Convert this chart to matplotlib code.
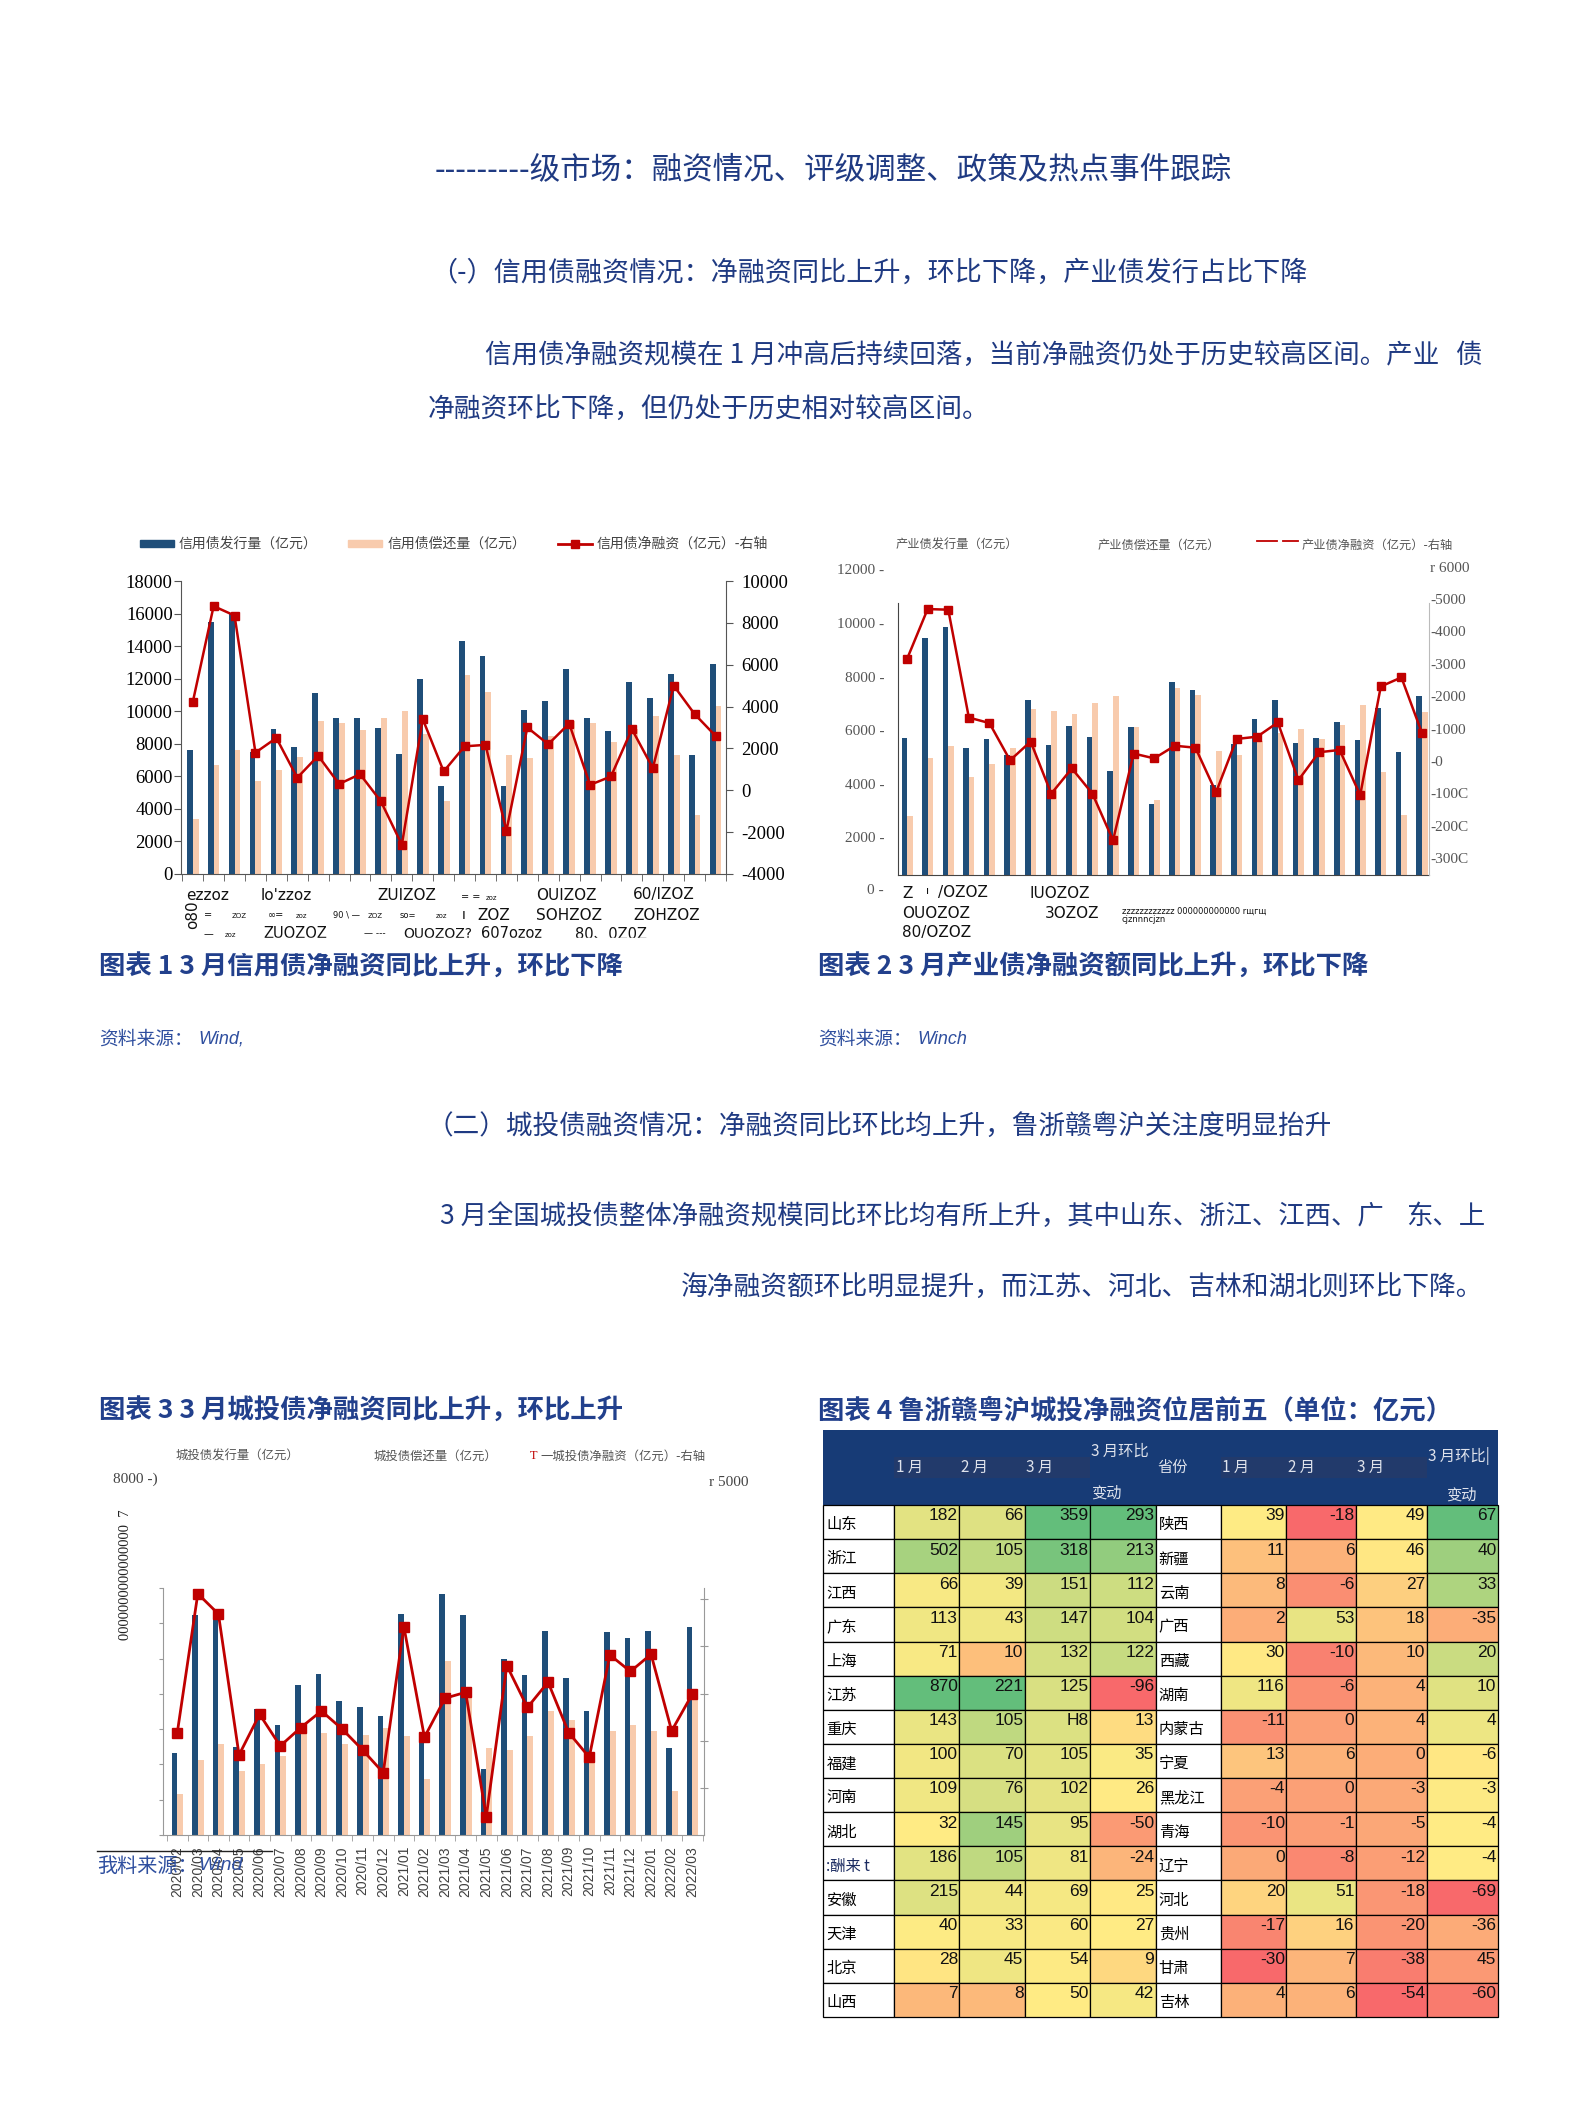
import numpy as np
import matplotlib
matplotlib.use("Agg")
import matplotlib.pyplot as plt
from matplotlib.patches import Rectangle
from matplotlib import font_manager

plt.rcParams['font.family'] = ['Noto Sans CJK SC', 'DejaVu Sans']
plt.rcParams['axes.unicode_minus'] = False

installed = {f.name for f in font_manager.fontManager.ttflist}
NARROW = 'Liberation Sans Narrow' if 'Liberation Sans Narrow' in installed else 'Liberation Sans'
SERIF = 'Liberation Serif'
SANS = 'DejaVu Sans'

W, H = 1571, 2112

months = ['2020/02', '2020/03', '2020/04', '2020/05', '2020/06', '2020/07', '2020/08',
          '2020/09', '2020/10', '2020/11', '2020/12', '2021/01', '2021/02', '2021/03',
          '2021/04', '2021/05', '2021/06', '2021/07', '2021/08', '2021/09', '2021/10',
          '2021/11', '2021/12', '2022/01', '2022/02', '2022/03']

# chart 1: credit bonds (100m yuan)
credit_issue = [7600, 15500, 16000, 7500, 8900, 7800, 11100, 9600, 9600, 9000, 7400, 12000, 5400,
                14300, 13400, 5400, 10100, 10650, 12600, 9600, 8800, 11800, 10800, 12300, 7300, 12900]
credit_repay = [3400, 6700, 7600, 5700, 6400, 7200, 9400, 9300, 8850, 9600, 10000, 8600, 4500,
                12200, 11200, 7300, 7100, 8500, 9400, 9300, 8100, 8900, 9700, 7300, 3600, 10300]
credit_net = [4200, 8800, 8350, 1800, 2500, 600, 1650, 300, 770, -530, -2600, 3400, 900,
              2100, 2170, -1930, 3000, 2200, 3190, 260, 660, 2920, 1060, 5000, 3640, 2600]

# chart 2: industrial bonds
ind_issue = [5700, 9450, 9860, 5350, 5670, 5070, 7130, 5450, 6170, 5760, 4480, 6120, 3230,
             7800, 7480, 3960, 5500, 6430, 7130, 5530, 5700, 6290, 5620, 6840, 5170, 7290]
ind_repay = [2800, 4950, 5410, 4270, 4740, 5320, 6790, 6720, 6620, 7030, 7260, 6120, 3380,
             7560, 7310, 5220, 5070, 5600, 5900, 6040, 5670, 6190, 6940, 4430, 2840, 6670]
ind_net = [3150, 4690, 4670, 1340, 1170, 20, 600, -1010, -230, -1010, -2450, 230, 80,
           470, 410, -970, 680, 750, 1190, -590, 270, 340, -1050, 2300, 2580, 860]
ind_left_ticks = [12000, 10000, 8000, 6000, 4000, 2000]
ind_right_ticks = [6000, 5000, 4000, 3000, 2000, 1000, 0, -1000, -2000, -3000]
ind_right_labels = ['r 6000', '-5000', '-4000', '-3000', '-2000', '-1000', '-0', '-100C', '-200C', '-300C']

# chart 3: chengtou bonds
ct_issue = [2310, 6245, 6320, 2500, 3570, 3130, 4245, 4550, 3810, 3630, 3370, 6270, 2740,
            6840, 6230, 1860, 5000, 4530, 5780, 4450, 3510, 5750, 5580, 5780, 2470, 5900]
ct_repay = [1150, 2120, 2590, 1820, 2000, 2245, 2950, 2900, 2570, 2830, 3040, 2800, 1580,
            4920, 4200, 2470, 2400, 2800, 3520, 3270, 2100, 2950, 3110, 2940, 1250, 3820]
ct_net = [1165, 4115, 3685, 705, 1565, 895, 1285, 1635, 1255, 810, 330, 3420, 1080,
          1905, 2030, -600, 2595, 1710, 2245, 1180, 655, 2820, 2470, 2835, 1215, 1990]

# chart 4: province table
prov_left = ['山东', '浙江', '江西', '广东', '上海', '江苏', '重庆', '福建', '河南', '湖北',
             ':酬来 t', '安徽', '天津', '北京', '山西']
jan_left = [182, 502, 66, 113, 71, 870, 143, 100, 109, 32, 186, 215, 40, 28, 7]
feb_left = [66, 105, 39, 43, 10, 221, 105, 70, 76, 145, 105, 44, 33, 45, 8]
mar_left = [359, 318, 151, 147, 132, 125, 118, 105, 102, 95, 81, 69, 60, 54, 50]
chg_left = [293, 213, 112, 104, 122, -96, 13, 35, 26, -50, -24, 25, 27, 9, 42]
prov_right = ['陕西', '新疆', '云南', '广西', '西藏', '湖南', '内蒙古', '宁夏', '黑龙江', '青海',
              '辽宁', '河北', '贵州', '甘肃', '吉林']
jan_right = [39, 11, 8, 2, 30, 116, -11, 13, -4, -10, 0, 20, -17, -30, 4]
feb_right = [-18, 6, -6, 53, -10, -6, 0, 6, 0, -1, -8, 51, 16, 7, 6]
mar_right = [49, 46, 27, 18, 10, 4, 4, 0, -3, -5, -12, -18, -20, -38, -54]
chg_right = [67, 40, 33, -35, 20, 10, 4, -6, -3, -4, -4, -69, -36, -45, -60]
# cells whose printed text differs from the value (as in the source image)
shown = {(0, 6, 2): 'H8', (1, 13, 3): '45'}

BLUE = '#1f4e79'
PEACH = '#f8cbad'
RED = '#c00000'
NAVY = '#1f3a82'
CAP = '#22408c'
SRC = '#2f4f9f'


def box(l, t, r, b):
    return [l / W, 1 - b / H, (r - l) / W, (b - t) / H]


fig = plt.figure(figsize=(W / 100, H / 100), dpi=100)
x = np.arange(len(months))

# ---------------- chart 1
ax1 = fig.add_axes(box(181, 581, 726, 874))
ax1.bar(x - 0.14, credit_issue, 0.28, color=BLUE)
ax1.bar(x + 0.14, credit_repay, 0.28, color=PEACH)
ax1.set_xlim(-0.56, 25.47)
ax1.set_ylim(0, 18000)
ax1.set_yticks(np.arange(0, 18001, 2000))
ax1.set_xticks([])
ax1.set_xticks(np.arange(-0.5, 25.6, 1), minor=True)
ax1.tick_params(axis='x', which='minor', length=5, color='#555')
ax1.tick_params(axis='y', length=5, color='#555', pad=1, labelsize=13.5, labelfontfamily=SERIF)
for s in ['top', 'right']:
    ax1.spines[s].set_visible(False)
for s in ['left', 'bottom']:
    ax1.spines[s].set_color('#555')
ax1r = ax1.twinx()
ax1r.plot(x, credit_net, color=RED, lw=1.8, marker='s', ms=5.5)
ax1r.set_ylim(-4000, 10000)
ax1r.set_yticks(np.arange(-4000, 10001, 2000))
ax1r.tick_params(axis='y', length=5, color='#555', pad=6, labelsize=13.5, labelfontfamily=SERIF)
for s in ['top', 'left', 'bottom']:
    ax1r.spines[s].set_visible(False)
ax1r.spines['right'].set_color('#555')

# ---------------- chart 2
ax2 = fig.add_axes(box(898, 565, 1429, 875))
ax2.bar(x - 0.135, ind_issue, 0.27, color=BLUE)
ax2.bar(x + 0.135, ind_repay, 0.27, color=PEACH)
ax2.set_xlim(-0.44, 25.34)
ax2.set_ylim(597, 12160)
ax2.set_xticks([])
ax2.set_yticks(ind_left_ticks)
ax2.set_yticklabels([f'{v} -' for v in ind_left_ticks])
ax2.tick_params(axis='y', length=0, pad=10, labelsize=11, labelcolor='#555', labelfontfamily=SERIF)
ax2.spines['left'].set_bounds(597, 10750)
for s in ['top', 'right']:
    ax2.spines[s].set_visible(False)
for s in ['left', 'bottom']:
    ax2.spines[s].set_color('#444')
ax2r = ax2.twinx()
ax2r.plot(x, ind_net, color=RED, lw=1.8, marker='s', ms=6)
ax2r.set_ylim(-3520, 6050)
ax2r.set_yticks(ind_right_ticks)
ax2r.set_yticklabels(ind_right_labels)
ax2r.tick_params(axis='y', length=0, pad=1, labelsize=11, labelcolor='#555', labelfontfamily=SERIF)
for s in ['top', 'left', 'bottom']:
    ax2r.spines[s].set_visible(False)
ax2r.spines['right'].set_color('#bbbbbb')
ax2r.spines['right'].set_bounds(-3520, 4880)

# ---------------- chart 3
ax3 = fig.add_axes(box(163, 1588, 704, 1835))
ax3.bar(x - 0.14, ct_issue, 0.27, color=BLUE)
ax3.bar(x + 0.14, ct_repay, 0.29, color=PEACH)
ax3.set_xlim(-0.69, 25.57)
ax3.set_ylim(0, 7000)
ax3.set_yticks(np.arange(0, 7001, 1000))
ax3.set_yticklabels([])
ax3.set_xticks(x)
ax3.set_xticklabels(months, rotation=90, fontsize=10, color='#404040', family='Liberation Sans')
ax3.set_xticks(np.arange(-0.5, 25.6, 1), minor=True)
ax3.tick_params(axis='x', which='major', length=0, pad=8)
ax3.tick_params(axis='x', which='minor', length=4, color='#999')
ax3.tick_params(axis='y', length=3, color='#999')
ax3.spines['top'].set_visible(False)
ax3.spines['right'].set_visible(False)
for s in ['left', 'bottom']:
    ax3.spines[s].set_color('#999')
ax3r = ax3.twinx()
ax3r.plot(x, ct_net, color=RED, lw=2, marker='s', ms=6.5)
ax3r.set_ylim(-987, 4235)
ax3r.set_yticks(np.arange(0, 4001, 1000))
ax3r.set_yticklabels([])
ax3r.tick_params(axis='y', length=6, direction='inout', color='#999')
for s in ['top', 'left', 'bottom']:
    ax3r.spines[s].set_visible(False)
ax3r.spines['right'].set_color('#999')

# ---------------- page layer (pixel coordinates)
pg = fig.add_axes([0, 0, 1, 1], zorder=10)
pg.set_xlim(0, W)
pg.set_ylim(H, 0)
pg.axis('off')


def t(xp, yp, s, size, color='black', **kw):
    kw.setdefault('va', 'center')
    return pg.text(xp, yp, s, fontsize=size, color=color, **kw)


t(435, 171, '---------级市场：融资情况、评级调整、政策及热点事件跟踪', 22, NAVY)
t(430, 273, '（-）信用债融资情况：净融资同比上升，环比下降，产业债发行占比下降', 19.5, NAVY)
t(485, 355, '信用债净融资规模在 1 月冲高后持续回落，当前净融资仍处于历史较高区间。产业', 19.1, NAVY)
t(1482, 355, '债', 19.1, NAVY, ha='right')
t(428, 410, '净融资环比下降，但仍处于历史相对较高区间。', 19.3, NAVY)

t(427, 1126, '（二）城投债融资情况：净融资同比环比均上升，鲁浙赣粤沪关注度明显抬升', 19.2, NAVY)
t(440, 1216, '3 月全国城投债整体净融资规模同比环比均有所上升，其中山东、浙江、江西、广', 19, NAVY)
t(1485, 1216, '东、上', 19, NAVY, ha='right')
t(1483, 1288, '海净融资额环比明显提升，而江苏、河北、吉林和湖北则环比下降。', 19.3, NAVY, ha='right')

# captions and sources
t(99, 967, '图表 1 3 月信用债净融资同比上升，环比下降', 19, CAP, weight='bold')
t(818, 967, '图表 2 3 月产业债净融资额同比上升，环比下降', 19, CAP, weight='bold')
t(99, 1411, '图表 3 3 月城投债净融资同比上升，环比上升', 19, CAP, weight='bold')
t(818, 1411, '图表 4 鲁浙赣粤沪城投净融资位居前五（单位：亿元）', 19, CAP, weight='bold')
t(99, 1039, '资料来源：', 13.5, SRC)
t(198, 1039, 'Wind,', 13, SRC, family=NARROW, style='italic')
t(818, 1039, '资料来源：', 13.5, SRC)
t(917, 1039, 'Winch', 13, SRC, family=NARROW, style='italic')

# chart 1 legend
pg.add_patch(Rectangle((140, 540), 34, 7, color=BLUE))
pg.add_patch(Rectangle((348, 540), 34, 7, color=PEACH))
pg.plot([558, 592], [543.5, 543.5], color=RED, lw=2)
pg.plot([575], [543.5], marker='s', ms=6, color=RED)
t(179, 543.5, '信用债发行量（亿元）', 10, '#444')
t(388, 543.5, '信用债偿还量（亿元）', 10, '#444')
t(597, 543.5, '信用债净融资（亿元）-右轴', 10, '#444')

# chart 1 scrambled axis labels
c1_labels = [
    (186, 895, 'ezzoz', 11), (261, 895, "lo'zzoz", 11), (377, 895, 'ZUIZOZ', 11),
    (461, 897, '= =', 7), (486, 898, 'zoz', 5), (536, 895, 'OUIZOZ', 11), (633, 895, '60/IZOZ', 11),
    (204, 915, '=', 7), (232, 916, 'ZOZ', 5), (268, 915, '∞=', 7), (296, 916, 'zoz', 5),
    (333, 915, '90 \\ —', 6), (368, 916, 'ZOZ', 5), (400, 915, 'so=', 6), (436, 916, 'zoz', 5),
    (462, 915, 'ı', 10), (477, 915, 'ZOZ', 11), (536, 915, 'SOHZOZ', 11), (633, 915, 'ZOHZOZ', 11),
    (204, 934, '—', 7), (225, 935, 'zoz', 5), (263, 934, 'ZUOZOZ', 10.5), (364, 934, '— ---', 6.5),
    (403, 934, 'OUOZOZ?', 10), (481, 934, '607ozoz', 10.5), (575, 934, '80、0Z0Z', 10.5),
]
for xp, yp, s, size in c1_labels:
    t(xp, yp, s, size, '#111', family=[SANS, 'Noto Sans CJK SC'])
t(193, 915, 'o80', 11, '#111', family=SANS, rotation=90, ha='center')
pg.add_patch(Rectangle((150, 937.5), 620, 14, color='white', zorder=4))

# chart 2 legend and scrambled labels
t(896, 545, '产业债发行量（亿元）', 8.8, '#555')
t(1098, 545, '产业债偿还量（亿元）', 8.8, '#555')
pg.plot([1257, 1277], [541, 541], color=RED, lw=1.3)
pg.plot([1283, 1298], [541, 541], color=RED, lw=1.3)
t(1302, 545, '产业债净融资（亿元）-右轴', 8.8, '#555')
t(884, 891, '0 -', 11, '#555', family=SERIF, ha='right')
c2_labels = [
    (902, 893, 'Z', 11), (926, 891, 'ı', 8), (938, 893, '/OZOZ', 11), (1030, 893, 'IUOZOZ', 11),
    (902, 913, 'OUOZOZ', 11), (1045, 913, '3OZOZ', 11), (902, 933, '80/OZOZ', 11),
    (1122, 911, 'zzzzzzzzzzzz 000000000000 rщгщ', 6), (1122, 919, 'cjznnncjzn', 6),
]
for xp, yp, s, size in c2_labels:
    t(xp, yp, s, size, '#111', family=SANS)

# chart 3 legend and stray labels
t(176, 1456, '城投债发行量（亿元）', 8.9, '#555')
t(374, 1456, '城投债偿还量（亿元）', 8.9, '#555')
t(530, 1456, 'T', 8.9, RED, family=SERIF)
t(540, 1456, '一城投债净融资（亿元）-右轴', 8.9, '#555')
t(113, 1479, '8000 -)', 11, '#444', family=SERIF)
t(709, 1483, 'r 5000', 11, '#444', family=SERIF)
t(126, 1575, '0000000000000000  7', 10.5, '#222', family=SERIF, rotation=90, ha='center')
pg.plot([97, 272], [1851, 1851], color='#222', lw=1)
t(97, 1866, '我料来源：', 14.5, SRC)
t(198, 1866, 'Wind', 14, SRC, family=NARROW, style='italic')

# ---------------- chart 4 table
REDC = np.array([248, 105, 107]) / 255
YELC = np.array([255, 235, 132]) / 255
GRNC = np.array([99, 190, 123]) / 255


def excel_scale(vals):
    v = np.asarray(vals, float)
    lo, mid, hi = v.min(), np.percentile(v, 50), v.max()
    out = []
    for val in v:
        if val <= mid:
            f = (val - lo) / (mid - lo) if mid > lo else 1.0
            c = REDC + (YELC - REDC) * f
        else:
            f = (val - mid) / (hi - mid)
            c = YELC + (GRNC - YELC) * f
        out.append(tuple(np.clip(c, 0, 1)))
    return out


left_cols = [jan_left, feb_left, mar_left, chg_left]
right_cols = [jan_right, feb_right, mar_right, chg_right]
left_colors, right_colors = [], []
for k in range(3):
    both = excel_scale(left_cols[k] + right_cols[k])
    left_colors.append(both[:15])
    right_colors.append(both[15:])
left_colors.append(excel_scale(chg_left))
right_colors.append(excel_scale(chg_right))

cx = [823.5, 894, 959.5, 1025, 1090, 1155.7, 1221, 1286.5, 1356, 1426.8, 1498]
head_top, head_bot, tab_bot = 1430, 1505, 2017
row_h = (tab_bot - head_bot) / 15

pg.add_patch(Rectangle((cx[0], head_top), cx[-1] - cx[0], head_bot - head_top, color='#173b76', lw=0))
pg.add_patch(Rectangle((cx[1], 1457), cx[4] - cx[1], 21, color='#223a6b', lw=0))
pg.add_patch(Rectangle((cx[6], 1457), cx[9] - cx[6], 21, color='#223a6b', lw=0))
HDR = '#dfe3ec'
for s, xp, yp in [('1 月', 896, 1467.7), ('2 月', 961, 1467.7), ('3 月', 1026, 1467.7),
                  ('3 月环比', 1091, 1451.7), ('变动', 1091, 1493), ('省份', 1157, 1467.7),
                  ('1 月', 1222, 1467.7), ('2 月', 1288, 1467.7), ('3 月', 1357, 1467.7),
                  ('3 月环比|', 1428, 1455.7), ('变动', 1446, 1495)]:
    t(xp, yp, s, 11, HDR)

for half, (provs, cols, colors, c0) in enumerate([(prov_left, left_cols, left_colors, 0),
                                                   (prov_right, right_cols, right_colors, 5)]):
    for r in range(15):
        y0 = head_bot + r * row_h
        pg.add_patch(Rectangle((cx[c0], y0), cx[c0 + 1] - cx[c0], row_h,
                               facecolor='white', edgecolor='black', lw=0.9))
        pcol = '#1a2a60' if provs[r].startswith(':') else 'black'
        t(cx[c0] + 3, y0 + row_h * 0.58, provs[r], 11, pcol)
        for k in range(4):
            xa, xb = cx[c0 + 1 + k], cx[c0 + 2 + k]
            pg.add_patch(Rectangle((xa, y0), xb - xa, row_h, facecolor=colors[k][r],
                                   edgecolor='black', lw=0.9))
            label = shown.get((half, r, k), str(cols[k][r]))
            t(xb - 1.5, y0 + row_h * 0.32, label, 12.5, '#111', family=NARROW, ha='right')

fig.savefig('out.png', dpi=100)
plt.close(fig)
